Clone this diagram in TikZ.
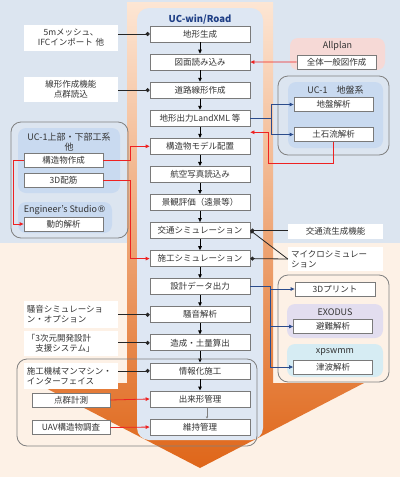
\documentclass[tikz,border=0pt]{standalone}
\usepackage{fontspec}
\setmainfont{Noto Sans CJK JP}
\newfontfamily\symfont{DejaVu Sans}
\usepackage{tikz}
\usetikzlibrary{arrows.meta,calc}

\definecolor{bgblue}{HTML}{DCE5F0}
\definecolor{bgpeach}{HTML}{FDF1E6}
\definecolor{panelblue}{HTML}{DEE7F3}
\definecolor{lightpanel}{HTML}{C9DAF0}
\definecolor{pinkpanel}{HTML}{F6D9D6}
\definecolor{lavender}{HTML}{E2DDEF}
\definecolor{cyanpanel}{HTML}{D6ECF3}
\definecolor{ucblue}{HTML}{1F3F86}
\definecolor{shadetop}{HTML}{FDE6D4}
\definecolor{shademid}{HTML}{F2A57A}
\definecolor{shadebot}{HTML}{DF6619}
\definecolor{arrowred}{HTML}{EE2222}
\definecolor{arrowblue}{HTML}{2B4C8C}
\definecolor{groupgray}{HTML}{808080}
\definecolor{boxgray}{HTML}{7A7A7A}
\definecolor{txtgray}{HTML}{333333}

\begin{document}
\begin{tikzpicture}
  [x=1pt,y=-1pt,
    every node/.style={font=\fontsize{8.5}{10}\selectfont,text=txtgray},
    stepbox/.style={draw=boxgray,fill=white,line width=0.8pt,minimum width=100,minimum height=16,inner sep=0},
    sidebox/.style={stepbox,minimum width=79,minimum height=14},
    note/.style={fill=white,inner sep=3pt,text width=88,align=left,minimum height=26},
    notec/.style={note,align=center},
    grptitle/.style={font=\fontsize{9}{10.5}\selectfont,align=center},
    flow/.style={-{Triangle[length=4pt,width=3.5pt]},line width=0.9pt,black},
    dotline/.style={-{Circle[length=4pt]},line width=0.8pt,black!85},
    redarrow/.style={-{Triangle[length=4pt,width=3.5pt]},line width=0.8pt,arrowred},
    bluearrow/.style={-{Triangle[length=4pt,width=3.5pt]},line width=0.8pt,arrowblue},
    group/.style={draw=groupgray,line width=0.8pt,rounded corners=10}]
  \useasboundingbox (0,0) rectangle (400,477);
  \fill[bgblue] (0,0) rectangle (400,243);
  \fill[bgpeach] (0,243) rectangle (400,477);
  \shade[top color=shadetop,middle color=shademid,bottom color=shadebot]
    (127,2) -- (273,2) -- (273,383) -- (364,383) -- (200,468) -- (36,383) -- (127,383) -- cycle;
  \fill[panelblue,rounded corners=12] (137,8) rectangle (263,440);
  \node[font=\bfseries\fontsize{9.5}{11}\selectfont,text=ucblue] (title) at (200,19) {UC-win/Road};

  \foreach \t [count=\i] in {地形生成,図面読み込み,道路線形作成,地形出力LandXML 等,構造物モデル配置,航空写真読込み,景観評価（遠景等）,交通シミュレーション,施工シミュレーション,設計データ出力,騒音解析,造成・土量算出,情報化施工,出来形管理,維持管理}
    \node[stepbox] (s\i) at (200,{34+28.075*(\i-1)}) {\t};
  \foreach \from/\to in {s1/s2,s2/s3,s3/s4,s4/s5,s5/s6,s6/s7,s7/s8,s8/s9,s9/s10,s10/s11,s11/s12,s12/s13,s13/s14}
    \draw[flow] (\from) -- (\to);
  \draw[-{Triangle[length=2pt,width=2pt]},thin,gray] ($(s14.south)+(7,0)$) -- ($(s15.north)+(7,0)$);

  % left, top
  \node[notec] (lbMesh) at (71,38) {5mメッシュ、\\IFCインポート 他};
  \node[notec,minimum height=25] (lbAlign) at (71,89.5) {線形作成機能\\点群読込};
  \draw[dotline] (lbMesh.east |- s1) -- (s1.west);
  \draw[dotline] (lbAlign.east |- s3) -- (s3.west);

  \draw[group] (11,122) rectangle (128,238);
  \fill[lightpanel,rounded corners=8] (18,128) rectangle (120,193);
  \node[grptitle] (tUCa) at (69,142) {UC-1上部・下部工系\\他};
  \node[sidebox] (bStruct) at (63.5,160) {構造物作成};
  \node[sidebox] (b3D) at (63.5,180) {3D配筋};
  \fill[lightpanel,rounded corners=8] (18,202) rectangle (112,233);
  \node[grptitle] (tES) at (65,210.5) {Engineer’s Studio{\symfont ®}};
  \node[sidebox] (bDyn) at (63.5,224) {動的解析};
  \draw[redarrow] (bStruct.east) -- ++(27,0) |- (s5.west);
  \draw[redarrow] (bStruct.west) -- ++(-10,0) |- (bDyn.west);
  \draw[redarrow] (b3D.east) -- ++(27,0) |- (s9.west);

  % right, top
  \fill[pinkpanel,rounded corners=8] (290,38) rectangle (385,70);
  \node[grptitle] (tPlan) at (337.5,46) {Allplan};
  \node[sidebox] (bPlan) at (336.5,62) {全体一般図作成};
  \draw[redarrow] (bPlan.west) -- (s2.east);

  \draw[group] (278,76) rectangle (389,155);
  \fill[lightpanel,rounded corners=8] (288,82) rectangle (383,148);
  \node[grptitle] (tUCb) at (335.5,90) {UC-1　地盤系};
  \node[sidebox] (bGround) at (333.5,104.5) {地盤解析};
  \node[sidebox] (bDebris) at (333.5,134.5) {土石流解析};
  \draw[bluearrow] (s4.east) -- ++(21,0) |- (bGround.west);
  \draw[bluearrow] (s4.east) -- ++(21,0) |- (bDebris.west);
  \coordinate (cIn) at ($(s4.south east)!0.5!(s5.north east)$);
  \draw[redarrow] (bDebris.south) |- (268,163) |- (cIn);

  % traffic
  \node[fill=white,minimum width=95,minimum height=15] (lbTraffic) at (335.5,231.5) {交通流生成機能};
  \node[note,text width=89,minimum height=22] (lbMicro) at (335.5,259) {マイクロシミュレー\\ション};
  \draw[dotline] (lbTraffic.west |- s8) -- (s8.east);
  \draw[dotline] (lbMicro.west) -- (s8.east);
  \draw[dotline] (lbMicro.west) -- (s9.east);

  % right, bottom
  \draw[group] (278,275) rectangle (389,382);
  \node[sidebox,minimum width=80] (bPrint) at (335,289) {3Dプリント};
  \fill[lavender,rounded corners=8] (287,304) rectangle (383,338);
  \node[grptitle] (tExo) at (335,312) {EXODUS};
  \node[sidebox] (bEvac) at (333,326.5) {避難解析};
  \fill[cyanpanel,rounded corners=8] (287,344) rectangle (383,377);
  \node[grptitle] (tXps) at (335,352.5) {xpswmm};
  \node[sidebox] (bTsunami) at (333,367) {津波解析};
  \foreach \b in {bPrint,bEvac,bTsunami}
    \draw[bluearrow] (s10.east) -- ++(20,0) |- (\b.west);

  % left, bottom
  \node[note,minimum height=27] (lbNoise) at (71,314) {騒音シミュレーショ\\ン・オプション};
  \node[note,minimum height=25] (lb3D) at (71,343) {「3次元開発設計\\　支援システム」};
  \draw[dotline] (lbNoise.east |- s11) -- (s11.west);
  \draw[dotline] (lb3D.east |- s12) -- (s12.west);

  \draw[group] (17,359) rectangle (257,446);
  \node[note] (lbMachine) at (71,376) {施工機械マンマシン・\\インターフェイス};
  \node[sidebox,minimum width=78] (bPoint) at (71,400) {点群計測};
  \node[sidebox,minimum width=78] (bUAV) at (71,427.5) {UAV構造物調査};
  \draw[dotline] (lbMachine.east |- s13) -- (s13.west);
  \draw[redarrow] (bPoint.east) -- (s14.west);
  \draw[redarrow] (bUAV.east) -- (s15.west);
\end{tikzpicture}
\end{document}
